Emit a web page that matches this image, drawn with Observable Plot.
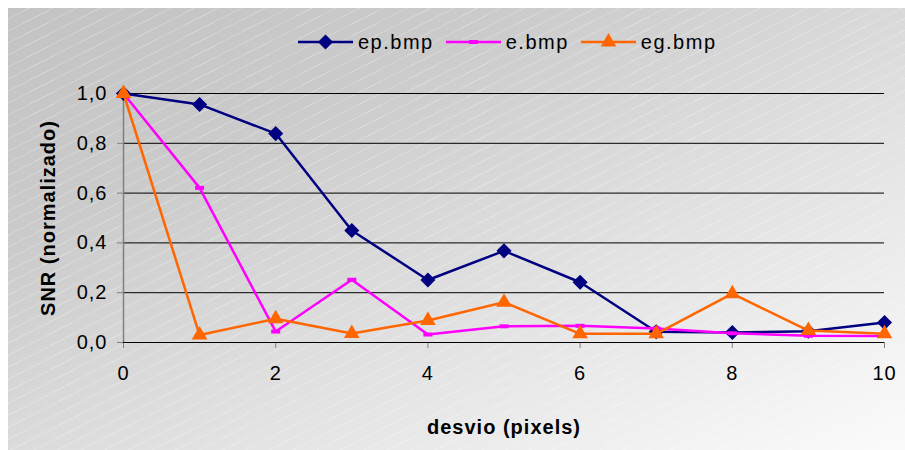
<!DOCTYPE html>
<html>
<head>
<meta charset="utf-8">
<script src="https://cdn.jsdelivr.net/npm/d3@7"></script>
<script src="https://cdn.jsdelivr.net/npm/@observablehq/plot@0.6"></script>
<style>
  html, body { margin: 0; padding: 0; background: #fff; }
  #chart {
    position: absolute; left: 8px; top: 8px; width: 897px; height: 442px;
    background:
      repeating-linear-gradient(-27deg, rgba(255,255,255,0) 0px, rgba(255,255,255,0) 9.6px, rgba(255,255,255,0.22) 9.6px, rgba(255,255,255,0.22) 10.7px),
      linear-gradient(155deg, #c3c3c3 0%, #cbcbcb 28%, #e2e2e2 62%, #fbfbfb 100%);
    font-family: "Liberation Sans", Arial, sans-serif;
  }
  #legend {
    height: 62px; box-sizing: border-box; padding-top: 24px; padding-left: 290px;
    display: flex; gap: 12px;
  }
  .item { display: flex; align-items: center; height: 20px; font-size: 20px; letter-spacing: 1.5px; color: #000; }
  .item svg { margin-right: 5px; overflow: visible; }
</style>
</head>
<body>
<div id="chart">
  <div id="legend"></div>
</div>
<script>
// desvio (pixels) on the x axis, normalised SNR per image
const desvio = [0, 1, 2, 3, 4, 5, 6, 7, 8, 9, 10];
const epBmp = [1.0, 0.956, 0.839, 0.450, 0.251, 0.368, 0.242, 0.043, 0.040, 0.045, 0.080];
const eBmp  = [1.0, 0.621, 0.044, 0.252, 0.032, 0.065, 0.067, 0.056, 0.037, 0.027, 0.026];
const egBmp = [1.0, 0.030, 0.095, 0.036, 0.088, 0.162, 0.035, 0.035, 0.196, 0.048, 0.035];

const seriesNames  = ["ep.bmp", "e.bmp", "eg.bmp"];
const seriesValues = [epBmp, eBmp, egBmp];
const seriesColors = ["#000080", "#ff00ff", "#ff6600"];

const xTicks = [0, 2, 4, 6, 8, 10];
const yTicks = [0, 0.2, 0.4, 0.6, 0.8, 1.0];

// small horizontal dash marker used by the e.bmp series
const dash = { draw(ctx) { ctx.rect(-4.5, -2, 9, 4); } };
const symbols = [
  { symbol: "diamond2", r: 6.8 },
  { symbol: dash, r: 4 },
  { symbol: "triangle", r: 5.8 }
];

const seriesMarks = seriesValues.flatMap((vals, k) => {
  const rows = desvio.map((x, i) => ({ x, y: vals[i] }));
  return [
    Plot.line(rows, { x: "x", y: "y", stroke: seriesColors[k], strokeWidth: 2.5 }),
    Plot.dot(rows, { x: "x", y: "y", fill: seriesColors[k], stroke: "none",
                     symbol: () => symbols[k].symbol, r: symbols[k].r })
  ];
});

const fmt = d => d.toFixed(1).replace(".", ",");

const plot = Plot.plot({
  width: 897,
  height: 380,
  marginLeft: 115,
  marginRight: 21,
  marginTop: 23,
  marginBottom: 108,
  style: {
    background: "transparent",
    overflow: "visible",
    fontFamily: "'Liberation Sans', Arial, sans-serif",
    fontSize: "20px",
    letterSpacing: "1px",
    color: "#808080"
  },
  x: { domain: [0, 10], ticks: xTicks, tickSize: 6, tickPadding: 17, tickFormat: d => String(d), label: null },
  y: { domain: [0, 1], ticks: yTicks, tickSize: 6, tickPadding: 10, tickFormat: fmt, label: null },
  marks: [
    Plot.ruleY(yTicks.filter(d => d > 0), { stroke: "#000", strokeWidth: 1 }),
    Plot.ruleX([0], { y1: 0, y2: 1, stroke: "#808080", strokeWidth: 1.5 }),
    Plot.ruleY([0], { stroke: "#000", strokeWidth: 1 }),
    ...seriesMarks,
    Plot.text(["desvio (pixels)"], {
      frameAnchor: "bottom", dy: 85, textAnchor: "middle", lineAnchor: "middle",
      fontSize: 21, fontWeight: "bold", fill: "#000", ariaLabel: "x title"
    }),
    Plot.text(["SNR (normalizado)"], {
      frameAnchor: "left", dx: -75, rotate: -90, textAnchor: "middle", lineAnchor: "middle",
      fontSize: 23, fontWeight: "bold", fill: "#000", ariaLabel: "y title"
    })
  ]
});

const svg = d3.select(plot);
svg.selectAll("text").style("fill", "#000").style("font-size", "20px");
svg.selectAll('g[aria-label="x title"] text').style("letter-spacing", "0.8px").style("font-size", "21px");
svg.selectAll('g[aria-label="y title"] text').style("letter-spacing", "0px").style("font-size", "23px");
document.getElementById("chart").appendChild(plot);

// legend: a short line with the series marker, then the name
const legend = d3.select("#legend");
seriesNames.forEach((name, k) => {
  const item = legend.append("div").attr("class", "item");
  const s = item.append("svg").attr("width", 55).attr("height", 20);
  s.append("line").attr("x1", 0).attr("x2", 55).attr("y1", 10).attr("y2", 10)
    .attr("stroke", seriesColors[k]).attr("stroke-width", 2.5);
  const sym = symbols[k].symbol;
  const size = Math.PI * symbols[k].r * symbols[k].r;
  const d3sym = sym === "diamond2" ? d3.symbolDiamond2 : sym === "triangle" ? d3.symbolTriangle : sym;
  s.append("path").attr("transform", "translate(27.5,10)")
    .attr("d", d3.symbol(d3sym, size)()).attr("fill", seriesColors[k]);
  item.append("span").text(name);
});
</script>
</body>
</html>
